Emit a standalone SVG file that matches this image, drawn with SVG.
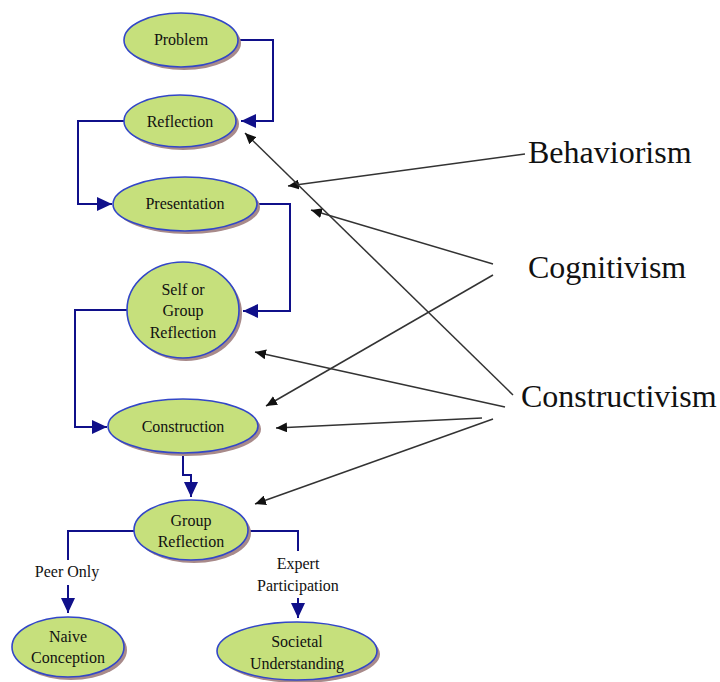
<svg xmlns="http://www.w3.org/2000/svg" width="720" height="682" viewBox="0 0 720 682">
<defs>
<marker id="navy" markerUnits="userSpaceOnUse" markerWidth="16" markerHeight="14" refX="15" refY="7" orient="auto">
<path d="M0,0 L15,7 L0,14 Z" fill="#10108a"/>
</marker>
<marker id="blk" markerUnits="userSpaceOnUse" markerWidth="12" markerHeight="10" refX="11" refY="5" orient="auto">
<path d="M0,0 L11,5 L0,10 Z" fill="#111"/>
</marker>
</defs>
<style>
.sh{fill:#a88a8a}
.nd{fill:#c6e07c;stroke:#3347c8;stroke-width:1.6}
.t{font-size:16px;fill:#111;text-anchor:middle}
.big{font-size:32px;fill:#111}
.c{fill:none;stroke:#10108a;stroke-width:2}
.k{fill:none;stroke:#333;stroke-width:1.5}
</style>
<rect width="720" height="682" fill="#fff"/>
<g font-family="'Liberation Serif', 'DejaVu Serif', 'Times New Roman', serif">
<g id="connectors">
<polyline class="c" points="238,40 273,40 273,121 241,121" marker-end="url(#navy)"/>
<polyline class="c" points="124,121 78,121 78,204 112,204" marker-end="url(#navy)"/>
<polyline class="c" points="257,204 290,204 290,311 243,311" marker-end="url(#navy)"/>
<polyline class="c" points="127,310 75,310 75,427 107,427" marker-end="url(#navy)"/>
<polyline class="c" points="183,456 183,475 191,475 191,497" marker-end="url(#navy)"/>
<polyline class="c" points="134,531 68,531 68,560"/>
<polyline class="c" points="68,585 68,613" marker-end="url(#navy)"/>
<polyline class="c" points="248,531 298,531 298,551"/>
<polyline class="c" points="298,598 298,618" marker-end="url(#navy)"/>
<line class="k" x1="525" y1="154" x2="288" y2="186" marker-end="url(#blk)"/>
<line class="k" x1="493" y1="264" x2="311" y2="210" marker-end="url(#blk)"/>
<line class="k" x1="493" y1="275" x2="266" y2="406" marker-end="url(#blk)"/>
<line class="k" x1="513" y1="395" x2="245" y2="133" marker-end="url(#blk)"/>
<line class="k" x1="505" y1="407" x2="255" y2="352" marker-end="url(#blk)"/>
<line class="k" x1="482" y1="418" x2="276" y2="428" marker-end="url(#blk)"/>
<line class="k" x1="493" y1="419" x2="255" y2="504" marker-end="url(#blk)"/>
<text class="t" x="67" y="577">Peer Only</text>
<text class="t" x="298" y="569">Expert</text>
<text class="t" x="298" y="591">Participation</text>
</g>
<g id="problem">
<ellipse class="sh" cx="184" cy="43" rx="57" ry="27"/>
<ellipse class="nd" cx="181" cy="40" rx="57" ry="27"/>
<text class="t" x="181" y="45">Problem</text>
</g>
<g id="reflection">
<ellipse class="sh" cx="183" cy="124" rx="56" ry="26"/>
<ellipse class="nd" cx="180" cy="121" rx="56" ry="26"/>
<text class="t" x="180" y="127">Reflection</text>
</g>
<g id="presentation">
<ellipse class="sh" cx="188" cy="207" rx="72" ry="27"/>
<ellipse class="nd" cx="185" cy="204" rx="72" ry="27"/>
<text class="t" x="185" y="209">Presentation</text>
</g>
<g id="self-group-reflection">
<ellipse class="sh" cx="186" cy="313" rx="56" ry="48"/>
<ellipse class="nd" cx="183" cy="310" rx="56" ry="48"/>
<text class="t" x="183" y="295">Self or</text>
<text class="t" x="183" y="316">Group</text>
<text class="t" x="183" y="338">Reflection</text>
</g>
<g id="construction">
<ellipse class="sh" cx="186" cy="429" rx="75" ry="27"/>
<ellipse class="nd" cx="183" cy="426" rx="75" ry="27"/>
<text class="t" x="183" y="432">Construction</text>
</g>
<g id="group-reflection">
<ellipse class="sh" cx="194" cy="533" rx="57" ry="30"/>
<ellipse class="nd" cx="191" cy="530" rx="57" ry="30"/>
<text class="t" x="191" y="526">Group</text>
<text class="t" x="191" y="547">Reflection</text>
</g>
<g id="naive-conception">
<ellipse class="sh" cx="71" cy="650" rx="56" ry="30"/>
<ellipse class="nd" cx="68" cy="647" rx="56" ry="30"/>
<text class="t" x="68" y="642">Naive</text>
<text class="t" x="68" y="663">Conception</text>
</g>
<g id="societal-understanding">
<ellipse class="sh" cx="300" cy="654" rx="80" ry="29"/>
<ellipse class="nd" cx="297" cy="651" rx="80" ry="29"/>
<text class="t" x="297" y="647">Societal</text>
<text class="t" x="297" y="669">Understanding</text>
</g>
<g id="behaviorism"><text class="big" x="528" y="163">Behaviorism</text></g>
<g id="cognitivism"><text class="big" x="528" y="278">Cognitivism</text></g>
<g id="constructivism"><text class="big" x="521" y="407">Constructivism</text></g>
</g>
</svg>
